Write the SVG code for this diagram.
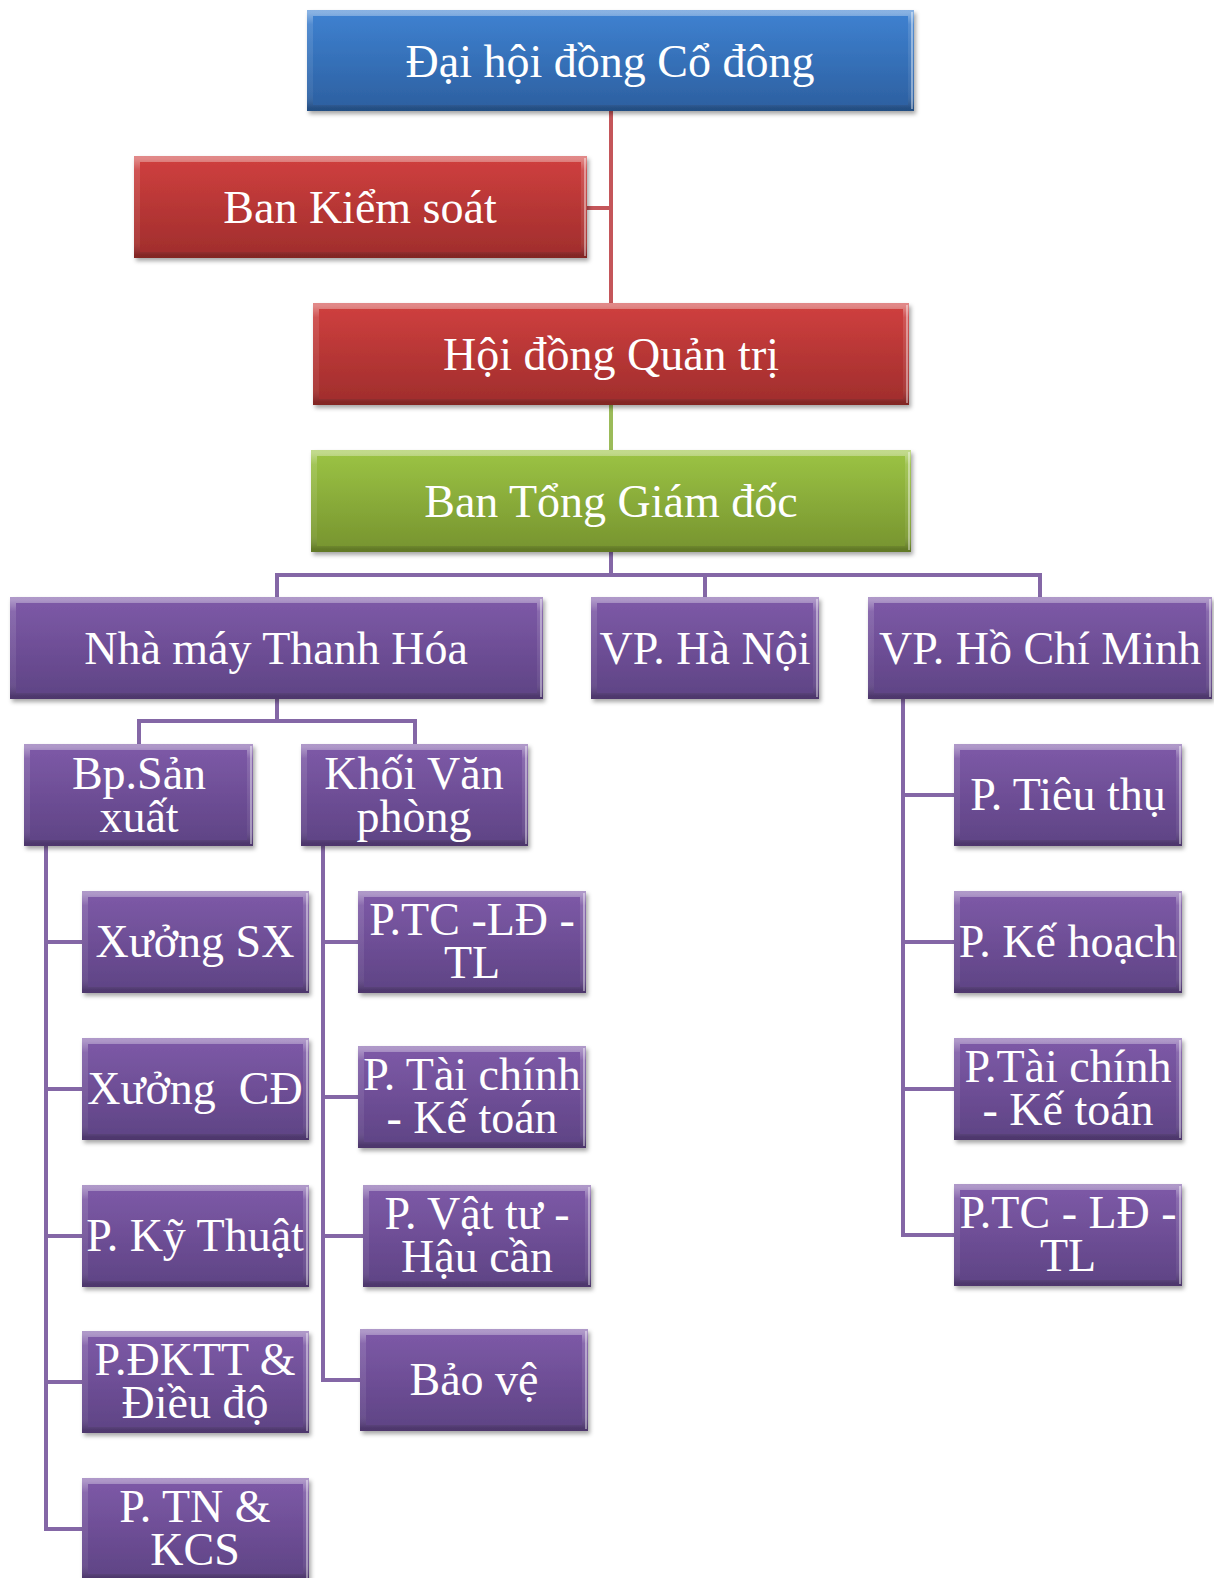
<svg xmlns="http://www.w3.org/2000/svg" width="1214" height="1578" viewBox="0 0 1214 1578">
<defs>
  <linearGradient id="gBlue" x1="0" y1="0" x2="0" y2="1">
    <stop offset="0" stop-color="#3f82d2"/><stop offset="1" stop-color="#2c5f9f"/>
  </linearGradient>
  <linearGradient id="gRed" x1="0" y1="0" x2="0" y2="1">
    <stop offset="0" stop-color="#d0403f"/><stop offset="1" stop-color="#9f2d2c"/>
  </linearGradient>
  <linearGradient id="gGreen" x1="0" y1="0" x2="0" y2="1">
    <stop offset="0" stop-color="#9cc445"/><stop offset="1" stop-color="#76932e"/>
  </linearGradient>
  <linearGradient id="gPurple" x1="0" y1="0" x2="0" y2="1">
    <stop offset="0" stop-color="#7e5aa8"/><stop offset="1" stop-color="#5e4384"/>
  </linearGradient>
  <linearGradient id="gBev" x1="0" y1="0" x2="0" y2="1">
    <stop offset="0" stop-color="#ffffff" stop-opacity="0.38"/>
    <stop offset="0.12" stop-color="#ffffff" stop-opacity="0.12"/>
    <stop offset="0.85" stop-color="#ffffff" stop-opacity="0.06"/>
    <stop offset="1" stop-color="#000000" stop-opacity="0.18"/>
  </linearGradient>
  <filter id="sh" x="-5%" y="-10%" width="112%" height="130%">
    <feDropShadow dx="2" dy="3" stdDeviation="2" flood-color="#000" flood-opacity="0.35"/>
  </filter>
</defs>
<style>
  .box{filter:url(#sh)}
  .blue .box{fill:url(#gBlue)}
  .red .box{fill:url(#gRed)}
  .green .box{fill:url(#gGreen)}
  .purple .box{fill:url(#gPurple)}
  .bev{fill:none;stroke:url(#gBev);stroke-width:6}
  .edge{fill:none;stroke:#ffffff;stroke-opacity:0.55;stroke-width:1.5}
  .t{font-family:"Liberation Serif","Times New Roman",serif;font-size:46px;fill:#ffffff;text-anchor:middle}
  .c{fill:none;stroke-width:4}
  .cr{stroke:#c4565a}
  .cg{stroke:#9bbb59}
  .cp{stroke:#8467a6}
</style>

<g id="connectors">
  <path class="c cr" d="M611 111 V303 M587 208 H611"/>
  <path class="c cg" d="M611 405 V450"/>
  <path class="c cp" d="M611 552 V575 M277 575 H1040 M277 573 V597 M705 575 V597 M1040 573 V597"/>
  <path class="c cp" d="M277 699 V721 M139 721 H415 M139 719 V744 M415 719 V744"/>
  <path class="c cp" d="M46 846 V1529 H82 M46 942 H82 M46 1089 H82 M46 1236 H82 M46 1382 H82"/>
  <path class="c cp" d="M323 846 V1380 H360 M323 942 H358 M323 1097 H358 M323 1236 H363"/>
  <path class="c cp" d="M903 699 V1235 H954 M903 795 H954 M903 942 H954 M903 1089 H954"/>
</g>

<g id="n-dhdcd" class="node blue"><rect class="box" x="307" y="10" width="607" height="101"/><rect class="bev" x="310" y="13" width="601" height="95"/><path class="edge" d="M912 12 V109"/><text class="t" x="610" y="77">Đại hội đồng Cổ đông</text></g>
<g id="n-bks" class="node red"><rect class="box" x="134" y="156" width="453" height="102"/><rect class="bev" x="137" y="159" width="447" height="96"/><path class="edge" d="M585 158 V256"/><text class="t" x="360" y="223">Ban Kiểm soát</text></g>
<g id="n-hdqt" class="node red"><rect class="box" x="313" y="303" width="596" height="102"/><rect class="bev" x="316" y="306" width="590" height="96"/><path class="edge" d="M907 305 V403"/><text class="t" x="611" y="370">Hội đồng Quản trị</text></g>
<g id="n-btgd" class="node green"><rect class="box" x="311" y="450" width="600" height="102"/><rect class="bev" x="314" y="453" width="594" height="96"/><path class="edge" d="M909 452 V550"/><text class="t" x="611" y="517">Ban Tổng Giám đốc</text></g>

<g id="n-nmth" class="node purple"><rect class="box" x="10" y="597" width="533" height="102"/><rect class="bev" x="13" y="600" width="527" height="96"/><path class="edge" d="M541 599 V697"/><text class="t" x="276" y="664">Nhà máy Thanh Hóa</text></g>
<g id="n-vphn" class="node purple"><rect class="box" x="591" y="597" width="228" height="102"/><rect class="bev" x="594" y="600" width="222" height="96"/><path class="edge" d="M817 599 V697"/><text class="t" x="705" y="664">VP. Hà Nội</text></g>
<g id="n-vphcm" class="node purple"><rect class="box" x="868" y="597" width="344" height="102"/><rect class="bev" x="871" y="600" width="338" height="96"/><path class="edge" d="M1210 599 V697"/><text class="t" x="1040" y="664">VP. Hồ Chí Minh</text></g>

<g id="n-bpsx" class="node purple"><rect class="box" x="24" y="744" width="229" height="102"/><rect class="bev" x="27" y="747" width="223" height="96"/><path class="edge" d="M251 746 V844"/><text class="t" x="139" y="789">Bp.Sản</text><text class="t" x="139" y="832">xuất</text></g>
<g id="n-kvp" class="node purple"><rect class="box" x="301" y="744" width="227" height="102"/><rect class="bev" x="304" y="747" width="221" height="96"/><path class="edge" d="M526 746 V844"/><text class="t" x="414" y="789">Khối Văn</text><text class="t" x="414" y="832">phòng</text></g>

<g id="n-xsx" class="node purple"><rect class="box" x="82" y="891" width="227" height="102"/><rect class="bev" x="85" y="894" width="221" height="96"/><path class="edge" d="M307 893 V991"/><text class="t" x="195" y="957">Xưởng SX</text></g>
<g id="n-xcd" class="node purple"><rect class="box" x="82" y="1038" width="227" height="102"/><rect class="bev" x="85" y="1041" width="221" height="96"/><path class="edge" d="M307 1040 V1138"/><text class="t" x="195" y="1104" xml:space="preserve">Xưởng  CĐ</text></g>
<g id="n-pkt" class="node purple"><rect class="box" x="82" y="1185" width="227" height="102"/><rect class="bev" x="85" y="1188" width="221" height="96"/><path class="edge" d="M307 1187 V1285"/><text class="t" x="195" y="1251">P. Kỹ Thuật</text></g>
<g id="n-pdktt" class="node purple"><rect class="box" x="82" y="1331" width="227" height="102"/><rect class="bev" x="85" y="1334" width="221" height="96"/><path class="edge" d="M307 1333 V1431"/><text class="t" x="195" y="1375">P.ĐKTT &amp;</text><text class="t" x="195" y="1418">Điều độ</text></g>
<g id="n-ptn" class="node purple"><rect class="box" x="82" y="1478" width="227" height="102"/><rect class="bev" x="85" y="1481" width="221" height="96"/><path class="edge" d="M307 1480 V1578"/><text class="t" x="195" y="1522">P. TN &amp;</text><text class="t" x="195" y="1565">KCS</text></g>

<g id="n-ptcld" class="node purple"><rect class="box" x="358" y="891" width="228" height="102"/><rect class="bev" x="361" y="894" width="222" height="96"/><path class="edge" d="M584 893 V991"/><text class="t" x="472" y="935">P.TC -LĐ -</text><text class="t" x="472" y="978">TL</text></g>
<g id="n-ptckt" class="node purple"><rect class="box" x="358" y="1046" width="228" height="102"/><rect class="bev" x="361" y="1049" width="222" height="96"/><path class="edge" d="M584 1048 V1146"/><text class="t" x="472" y="1090">P. Tài chính</text><text class="t" x="472" y="1133">- Kế toán</text></g>
<g id="n-pvt" class="node purple"><rect class="box" x="363" y="1185" width="228" height="102"/><rect class="bev" x="366" y="1188" width="222" height="96"/><path class="edge" d="M589 1187 V1285"/><text class="t" x="477" y="1229">P. Vật tư -</text><text class="t" x="477" y="1272">Hậu cần</text></g>
<g id="n-bv" class="node purple"><rect class="box" x="360" y="1329" width="228" height="102"/><rect class="bev" x="363" y="1332" width="222" height="96"/><path class="edge" d="M586 1331 V1429"/><text class="t" x="474" y="1395">Bảo vệ</text></g>

<g id="n-ptt" class="node purple"><rect class="box" x="954" y="744" width="228" height="102"/><rect class="bev" x="957" y="747" width="222" height="96"/><path class="edge" d="M1180 746 V844"/><text class="t" x="1068" y="810">P. Tiêu thụ</text></g>
<g id="n-pkh" class="node purple"><rect class="box" x="954" y="891" width="228" height="102"/><rect class="bev" x="957" y="894" width="222" height="96"/><path class="edge" d="M1180 893 V991"/><text class="t" x="1068" y="957">P. Kế hoạch</text></g>
<g id="n-ptc2" class="node purple"><rect class="box" x="954" y="1038" width="228" height="102"/><rect class="bev" x="957" y="1041" width="222" height="96"/><path class="edge" d="M1180 1040 V1138"/><text class="t" x="1068" y="1082">P.Tài chính</text><text class="t" x="1068" y="1125">- Kế toán</text></g>
<g id="n-ptcld2" class="node purple"><rect class="box" x="954" y="1184" width="228" height="102"/><rect class="bev" x="957" y="1187" width="222" height="96"/><path class="edge" d="M1180 1186 V1284"/><text class="t" x="1068" y="1228">P.TC - LĐ -</text><text class="t" x="1068" y="1271">TL</text></g>
</svg>
